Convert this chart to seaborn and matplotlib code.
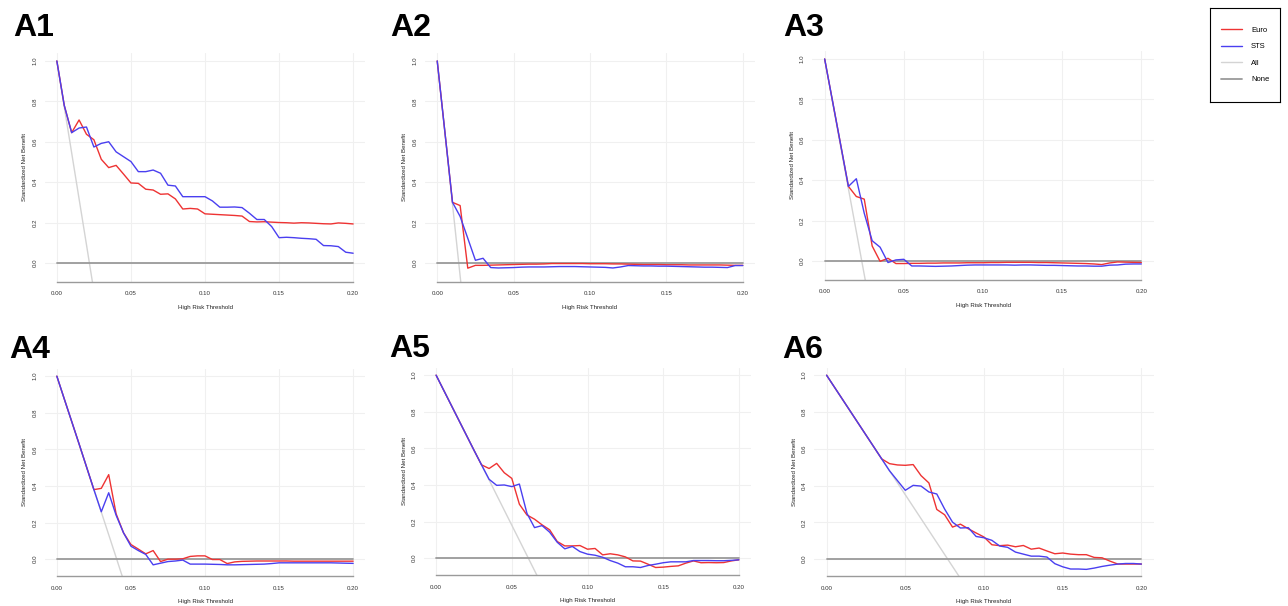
import numpy as np
import pandas as pd
import seaborn as sns
import matplotlib.pyplot as plt
from matplotlib.lines import Line2D

sns.set_style("white")
plt.rcParams['font.family'] = ['Liberation Sans', 'DejaVu Sans']

# thresholds evaluated by the decision curve (0 to 0.20 by 0.005)
thresholds = np.linspace(0, 0.2, 41)

a1_euro = [1.00, 0.78, 0.645, 0.708, 0.637, 0.61, 0.513, 0.472, 0.483, 0.44, 0.396, 0.394, 0.365, 0.361,
           0.34, 0.342, 0.317, 0.267, 0.27, 0.267, 0.243, 0.241, 0.239, 0.237, 0.235, 0.232, 0.205, 0.203,
           0.204, 0.202, 0.200, 0.199, 0.197, 0.199, 0.198, 0.196, 0.194, 0.193, 0.198, 0.196, 0.193]
a1_sts = [1.00, 0.78, 0.645, 0.668, 0.673, 0.574, 0.592, 0.60, 0.55, 0.526, 0.502, 0.452, 0.452, 0.46,
          0.444, 0.385, 0.381, 0.328, 0.328, 0.328, 0.328, 0.307, 0.276, 0.276, 0.277, 0.274, 0.246, 0.215,
          0.215, 0.18, 0.125, 0.127, 0.125, 0.122, 0.12, 0.117, 0.086, 0.085, 0.081, 0.053, 0.048]
a1_all_x = [0, 0.01, 0.02, 0.025]
a1_all = [1.0, 0.545, 0.09, -0.14]

a2_euro = [1.0, 0.65, 0.30, 0.284, -0.026, -0.012, -0.012, -0.011, -0.010, -0.009, -0.008, -0.007, -0.006,
           -0.006, -0.005, -0.003, -0.003, -0.003, -0.003, -0.003, -0.004, -0.004, -0.004, -0.005, -0.005,
           -0.006, -0.007, -0.008, -0.008, -0.008, -0.009, -0.009, -0.009, -0.01, -0.01, -0.01, -0.01, -0.01,
           -0.011, -0.012, -0.012]
a2_sts = [1.0, 0.65, 0.30, 0.23, 0.122, 0.013, 0.023, -0.023, -0.025, -0.024, -0.023, -0.021, -0.02, -0.02,
          -0.02, -0.019, -0.018, -0.018, -0.018, -0.019, -0.02, -0.021, -0.022, -0.025, -0.02, -0.013, -0.014,
          -0.015, -0.015, -0.016, -0.016, -0.017, -0.018, -0.019, -0.02, -0.021, -0.021, -0.022, -0.023,
          -0.013, -0.013]
a2_all_x = [0, 0.01, 0.015, 0.02]
a2_all = [1.0, 0.29, -0.065, -0.42]

a3_euro = [1.0, 0.79, 0.58, 0.369, 0.319, 0.306, 0.074, -0.002, 0.013, -0.013, -0.013, -0.012, -0.012,
           -0.011, -0.011, -0.01, -0.01, -0.01, -0.009, -0.009, -0.009, -0.008, -0.008, -0.007, -0.007,
           -0.007, -0.007, -0.008, -0.008, -0.009, -0.01, -0.011, -0.012, -0.013, -0.015, -0.018, -0.01,
           -0.005, -0.006, -0.007, -0.008]
a3_sts = [1.0, 0.79, 0.58, 0.369, 0.407, 0.236, 0.10, 0.068, -0.008, 0.005, 0.008, -0.025, -0.025, -0.026,
          -0.027, -0.026, -0.025, -0.023, -0.021, -0.02, -0.02, -0.02, -0.02, -0.02, -0.021, -0.02, -0.02,
          -0.021, -0.022, -0.022, -0.023, -0.024, -0.025, -0.025, -0.026, -0.026, -0.021, -0.02, -0.016,
          -0.015, -0.015]
a3_all_x = [0, 0.01, 0.02, 0.03]
a3_all = [1.0, 0.57, 0.145, -0.28]

a4_euro = [1.0, 0.876, 0.753, 0.63, 0.505, 0.38, 0.387, 0.462, 0.248, 0.144, 0.08, 0.055, 0.029, 0.047,
           -0.013, 0.0, 0.0, 0.002, 0.015, 0.018, 0.018, -0.002, -0.002, -0.024, -0.015, -0.012, -0.011,
           -0.01, -0.01, -0.01, -0.01, -0.01, -0.011, -0.011, -0.011, -0.011, -0.011, -0.011, -0.011,
           -0.011, -0.011]
a4_sts = [1.0, 0.876, 0.753, 0.63, 0.505, 0.38, 0.259, 0.363, 0.24, 0.144, 0.071, 0.047, 0.026, -0.031,
          -0.022, -0.013, -0.01, -0.005, -0.027, -0.027, -0.027, -0.028, -0.029, -0.031, -0.031, -0.03,
          -0.029, -0.028, -0.027, -0.024, -0.02, -0.02, -0.02, -0.02, -0.02, -0.02, -0.02, -0.02, -0.021,
          -0.022, -0.023]
a4_all_x = [0, 0.02, 0.04, 0.05]
a4_all = [1.0, 0.505, 0.01, -0.24]

a5_euro = [1.0, 0.918, 0.836, 0.754, 0.672, 0.59, 0.51, 0.49, 0.518, 0.467, 0.436, 0.295, 0.236, 0.213,
           0.182, 0.155, 0.091, 0.067, 0.067, 0.069, 0.049, 0.053, 0.018, 0.024, 0.018, 0.007, -0.015,
           -0.016, -0.033, -0.051, -0.049, -0.045, -0.042, -0.027, -0.015, -0.025, -0.024, -0.025, -0.024,
           -0.015, -0.009]
a5_sts = [1.0, 0.918, 0.836, 0.754, 0.672, 0.59, 0.51, 0.431, 0.398, 0.40, 0.391, 0.405, 0.245, 0.167,
          0.178, 0.142, 0.087, 0.051, 0.064, 0.036, 0.022, 0.016, 0.005, -0.013, -0.027, -0.047, -0.047,
          -0.051, -0.04, -0.033, -0.025, -0.02, -0.02, -0.02, -0.013, -0.013, -0.013, -0.014, -0.014,
          -0.012, -0.009]
a5_all_x = [0, 0.03, 0.06, 0.07]
a5_all = [1.0, 0.51, 0.015, -0.15]

a6_euro = [1.0, 0.935, 0.87, 0.805, 0.74, 0.675, 0.61, 0.545, 0.519, 0.512, 0.51, 0.514, 0.454, 0.414,
           0.27, 0.241, 0.174, 0.19, 0.165, 0.142, 0.12, 0.078, 0.073, 0.076, 0.067, 0.074, 0.054, 0.06,
           0.044, 0.029, 0.033, 0.027, 0.024, 0.024, 0.009, 0.007, -0.011, -0.027, -0.027, -0.027, -0.027]
a6_sts = [1.0, 0.935, 0.87, 0.805, 0.74, 0.675, 0.61, 0.545, 0.48, 0.427, 0.374, 0.401, 0.397, 0.365,
          0.354, 0.272, 0.201, 0.169, 0.171, 0.123, 0.116, 0.102, 0.071, 0.064, 0.038, 0.027, 0.016, 0.016,
          0.011, -0.025, -0.042, -0.054, -0.054, -0.056, -0.049, -0.04, -0.033, -0.027, -0.024, -0.024,
          -0.027]
a6_all_x = [0, 0.04, 0.08, 0.09]
a6_all = [1.0, 0.48, -0.04, -0.17]

none_x = [0, 0.2]
none_nb = [0, 0]

panel_names = ['A1', 'A2', 'A3', 'A4', 'A5', 'A6']
euro_list = [a1_euro, a2_euro, a3_euro, a4_euro, a5_euro, a6_euro]
sts_list = [a1_sts, a2_sts, a3_sts, a4_sts, a5_sts, a6_sts]
all_x_list = [a1_all_x, a2_all_x, a3_all_x, a4_all_x, a5_all_x, a6_all_x]
all_list = [a1_all, a2_all, a3_all, a4_all, a5_all, a6_all]

colors = {'Euro': '#ee3333', 'STS': '#4a3ff0'}
all_col = '#d4d4d4'
none_col = '#9a9a9a'

W, H = 1288, 606
# pixel boxes of plot regions: left, top, right, bottom
boxes = [(45, 52.5, 365, 281.5), (425, 52.5, 755, 281.5), (812, 50.5, 1154, 279.5),
         (45, 368.5, 365, 576), (424, 367.5, 751, 575), (814, 367.5, 1154, 576)]
title_pos = [(13, 36), (390, 36), (783, 36), (9, 358), (389, 357), (782, 358)]

fig = plt.figure(figsize=(W / 100, H / 100), dpi=100)

for i, name in enumerate(panel_names):
    l, t, r, b = boxes[i]
    ax = fig.add_axes([l / W, 1 - b / H, (r - l) / W, (b - t) / H])

    ax.grid(True, color='#f0f0f0', lw=0.8)
    ax.set_axisbelow(True)

    ax.plot(all_x_list[i], all_list[i], color=all_col, lw=1.0)
    ax.plot(none_x, none_nb, color=none_col, lw=1.3)

    df = pd.DataFrame({
        'threshold': np.concatenate([thresholds, thresholds]),
        'nb': euro_list[i] + sts_list[i],
        'model': ['Euro'] * len(thresholds) + ['STS'] * len(thresholds),
    })
    sns.lineplot(data=df, x='threshold', y='nb', hue='model', palette=colors,
                 estimator=None, sort=False, legend=False, lw=1.0, ax=ax)

    ax.set_xlim(-0.008, 0.208)
    ax.set_ylim(-0.092, 1.042)
    ax.set_xticks([0, 0.05, 0.1, 0.15, 0.2])
    ax.set_xticklabels(['0.00', '0.05', '0.10', '0.15', '0.20'])
    ax.set_yticks([0, 0.2, 0.4, 0.6, 0.8, 1.0])
    ax.set_yticklabels(['0.0', '0.2', '0.4', '0.6', '0.8', '1.0'], rotation=90, va='center')
    ax.tick_params(axis='both', length=0, labelsize=4.4, colors='#333333')
    ax.tick_params(axis='x', pad=7)
    ax.tick_params(axis='y', pad=5)
    ax.set_xlabel('High Risk Threshold', fontsize=4.4, color='#222222', labelpad=6)
    ax.set_ylabel('Standardized Net Benefit', fontsize=4.4, color='#222222', labelpad=4)

    for side in ['top', 'right', 'left']:
        ax.spines[side].set_visible(False)
    ax.spines['bottom'].set_bounds(0, 0.2)
    ax.spines['bottom'].set_color('#9a9a9a')
    ax.spines['bottom'].set_linewidth(1.0)

    tx, ty = title_pos[i]
    fig.text(tx / W, 1 - ty / H, name, fontsize=23, fontweight='bold', color='black',
             va='baseline', ha='left')

# legend in its own boxed area
lax = fig.add_axes([1210 / W, 1 - 102 / H, 70 / W, 94 / H])
lax.set_xticks([])
lax.set_yticks([])
for s in lax.spines.values():
    s.set_color('black')
    s.set_linewidth(0.8)
handles = [Line2D([], [], color=colors['Euro'], lw=1.0),
           Line2D([], [], color=colors['STS'], lw=1.0),
           Line2D([], [], color=all_col, lw=1.0),
           Line2D([], [], color=none_col, lw=1.3)]
leg = lax.legend(handles, ['Euro', 'STS', 'All', 'None'], loc='center', frameon=False,
                 fontsize=5.5, handlelength=2.8, handletextpad=1.2, labelspacing=1.2)
for txt in leg.get_texts():
    txt.set_color('black')

fig.savefig('out.png', dpi=100, facecolor='white')
